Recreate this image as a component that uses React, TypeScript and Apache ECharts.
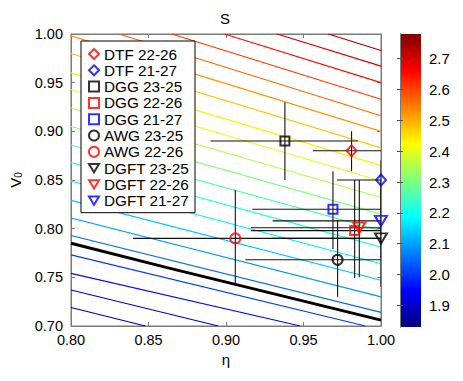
import React, { useEffect, useRef } from "react";
import * as echarts from "echarts";

// ---- axes / ticks ----
const xRange = [0.8, 1.0];
const yRange = [0.7, 1.0];
const colorRange = [1.83, 2.78];
const colorbarTicks = [1.9, 2.0, 2.1, 2.2, 2.3, 2.4, 2.5, 2.6, 2.7];

// ---- contour lines of S (level, then polyline points [eta, V0]) ----
const contourLevels = [
  2.737, 2.694, 2.65, 2.607, 2.564, 2.521, 2.478, 2.435, 2.391, 2.348, 2.305,
  2.262, 2.219, 2.175, 2.132, 2.089, 2.046, 2.003, 1.96, 1.916, 1.873,
];
const contourPaths: number[][][] = [
  [[0.966, 1.0], [1.0, 0.983]],
  [[0.933, 1.0], [1.0, 0.967]],
  [[0.899, 1.0], [1.0, 0.95]],
  [[0.865, 1.0], [1.0, 0.933]],
  [[0.831, 1.0], [1.0, 0.916]],
  [[0.8, 0.998], [1.0, 0.9]],
  [[0.8, 0.98], [1.0, 0.883]],
  [[0.8, 0.96], [1.0, 0.865]],
  [[0.8, 0.943], [1.0, 0.849]],
  [[0.8, 0.924], [1.0, 0.832]],
  [[0.8, 0.905], [1.0, 0.815]],
  [[0.8, 0.886], [1.0, 0.798]],
  [[0.8, 0.868], [1.0, 0.781]],
  [[0.8, 0.849], [1.0, 0.764]],
  [[0.8, 0.829], [1.0, 0.747]],
  [[0.8, 0.811], [1.0, 0.73]],
  [[0.8, 0.793], [1.0, 0.714]],
  [[0.8, 0.773], [0.99, 0.7]],
  [[0.8, 0.754], [0.948, 0.7]],
  [[0.8, 0.737], [0.895, 0.7]],
  [[0.8, 0.719], [0.848, 0.7]],
];
const blackLine = [
  [0.8, 0.785],
  [0.862, 0.76],
  [1.0, 0.706],
];

// ---- estimates with error bars ----
const seriesNames = [
  "DTF 22-26", "DTF 21-27", "DGG 23-25", "DGG 22-26", "DGG 21-27",
  "AWG 23-25", "AWG 22-26", "DGFT 23-25", "DGFT 22-26", "DGFT 21-27",
];
const etaValues = [0.981, 1.0, 0.938, 0.983, 0.969, 0.972, 0.906, 1.0, 0.986, 1.0];
const v0Values = [0.88, 0.85, 0.89, 0.798, 0.82, 0.768, 0.79, 0.79, 0.801, 0.808];
const etaLow = [0.956, 0.9715, 0.89, 0.916, 0.917, 0.9125, 0.84, 0.93, 0.916, 0.93];
const etaHigh = [1.0, 1.0, 0.985, 1.0, 1.0, 1.0, 1.0, 1.0, 1.0, 1.0];
const v0Low = [0.859, 0.83, 0.85, 0.749, 0.779, 0.73, 0.741, 0.74, 0.75, 0.77];
const v0High = [0.9, 0.87, 0.93, 0.85, 0.859, 0.809, 0.84, 0.84, 0.85, 0.85];

const markerShape = ["diamond", "diamond", "rect", "rect", "rect", "circle", "circle", "tri", "tri", "tri"];
const markerColor = ["#ff0000", "#0000ff", "#000000", "#ff0000", "#0000ff", "#000000", "#ff0000", "#000000", "#ff0000", "#0000ff"];

const TRI_DOWN = "path://M0,0 L12,0 L6,10 Z";
const FONT = "'Liberation Sans', Arial, Helvetica, sans-serif";
const AXIS_GRAY = "#7a7a7a";

function jet(f: number): string {
  const c = (v: number) => Math.round(255 * Math.max(0, Math.min(1, v)));
  const r = c(1.5 - Math.abs(4 * f - 3));
  const g = c(1.5 - Math.abs(4 * f - 2));
  const b = c(1.5 - Math.abs(4 * f - 1));
  return `rgb(${r},${g},${b})`;
}
const levelColor = (lv: number) => jet((lv - colorRange[0]) / (colorRange[1] - colorRange[0]));

export default function App() {
  const ref = useRef<HTMLDivElement>(null);
  useEffect(() => {
    if (!ref.current) return;
    const chart = echarts.init(ref.current, undefined, { renderer: "svg" });

    const mainAxisCommon = {
      type: "value" as const,
      gridIndex: 0,
      splitLine: { show: false },
      axisLine: { show: true, lineStyle: { color: AXIS_GRAY, width: 1 } },
      axisTick: { show: true, inside: true, length: 4, lineStyle: { color: AXIS_GRAY } },
    };

    const contourSeries = contourPaths.map((pts, i) => ({
      type: "line",
      xAxisIndex: 0,
      yAxisIndex: 0,
      data: pts,
      symbol: "none",
      silent: true,
      z: 1,
      lineStyle: { color: levelColor(contourLevels[i]), width: 1.2 },
      clip: true,
    }));

    const markerSeries = seriesNames.map((name, i) => ({
      type: "scatter",
      name,
      xAxisIndex: 0,
      yAxisIndex: 0,
      data: [[etaValues[i], v0Values[i]]],
      symbol: markerShape[i] === "tri" ? TRI_DOWN : markerShape[i],
      symbolSize:
        markerShape[i] === "tri" ? [12, 10] : markerShape[i] === "rect" ? 9 : markerShape[i] === "circle" ? 10 : [10, 11],
      itemStyle: { color: "rgba(0,0,0,0)", borderColor: markerColor[i], borderWidth: 2 },
      z: 5,
      silent: true,
      clip: false,
    }));

    const jetStops = [0, 0.125, 0.375, 0.625, 0.875, 1].map((o) => ({ offset: o, color: jet(o) }));

    const option: any = {
      animation: false,
      backgroundColor: "#fff",
      textStyle: { fontFamily: FONT },
      title: {
        text: "S",
        left: 220,
        top: 10,
        padding: 0,
        textStyle: { fontSize: 15, fontWeight: "normal", color: "#000", fontFamily: FONT, lineHeight: 16 },
      },
      grid: [
        { left: 70, top: 34, width: 311, height: 292, show: true, borderColor: AXIS_GRAY, borderWidth: 1, backgroundColor: "#fff" },
        { left: 400, top: 34, width: 21, height: 293, show: false },
      ],
      xAxis: [
        {
          ...mainAxisCommon,
          position: "bottom",
          min: xRange[0],
          max: xRange[1],
          interval: 0.05,
          name: "η",
          nameLocation: "middle",
          nameGap: 25,
          nameTextStyle: { fontSize: 15, color: "#000", fontFamily: FONT },
          axisLabel: { color: "#000", fontSize: 14.5, margin: 6, formatter: (v: number) => v.toFixed(2) },
        },
        {
          ...mainAxisCommon,
          position: "top",
          min: xRange[0],
          max: xRange[1],
          interval: 0.05,
          axisLabel: { show: false },
        },
        {
          type: "value",
          gridIndex: 1,
          min: 0,
          max: 1,
          show: false,
        },
      ],
      yAxis: [
        {
          ...mainAxisCommon,
          position: "left",
          min: yRange[0],
          max: yRange[1],
          interval: 0.05,
          name: "{a|V}{b|0}",
          nameLocation: "middle",
          nameGap: 48,
          nameRotate: 90,
          nameTextStyle: {
            color: "#000",
            fontFamily: FONT,
            rich: {
              a: { fontSize: 15, color: "#000", fontFamily: FONT, verticalAlign: "bottom", lineHeight: 18 },
              b: { fontSize: 10, color: "#000", fontFamily: FONT, verticalAlign: "bottom", lineHeight: 12 },
            },
          },
          axisLabel: { color: "#000", fontSize: 14.5, margin: 8, formatter: (v: number) => v.toFixed(2) },
        },
        {
          ...mainAxisCommon,
          position: "right",
          min: yRange[0],
          max: yRange[1],
          interval: 0.05,
          axisLabel: { show: false },
        },
        {
          type: "value",
          gridIndex: 1,
          position: "right",
          min: colorRange[0],
          max: colorRange[1],
          z: 6,
          splitLine: { show: false },
          axisLine: { show: true, lineStyle: { color: AXIS_GRAY, width: 1 } },
          axisTick: { show: true, inside: true, length: 3, customValues: colorbarTicks, lineStyle: { color: "#555" } },
          axisLabel: {
            color: "#000",
            fontSize: 15,
            margin: 8,
            customValues: colorbarTicks,
            formatter: (v: number) => v.toFixed(1),
          },
        },
        {
          type: "value",
          gridIndex: 1,
          position: "left",
          min: colorRange[0],
          max: colorRange[1],
          z: 6,
          splitLine: { show: false },
          axisLine: { show: true, lineStyle: { color: AXIS_GRAY, width: 1 } },
          axisTick: { show: true, inside: true, length: 3, customValues: colorbarTicks, lineStyle: { color: "#555" } },
          axisLabel: { show: false },
        },
      ],
      legend: {
        data: seriesNames,
        orient: "vertical",
        left: 81,
        top: 41,
        padding: [5, 6, 4, 7],
        itemWidth: 10,
        itemHeight: 10,
        itemGap: 0.3,
        itemTextGap: 6,
        borderColor: "#000",
        borderWidth: 1,
        borderRadius: 0,
        backgroundColor: "#fff",
        selectedMode: false,
        textStyle: { fontSize: 15.3, color: "#000", fontFamily: FONT, lineHeight: 16 },
      },
      series: [
        ...contourSeries,
        {
          type: "line",
          xAxisIndex: 0,
          yAxisIndex: 0,
          data: blackLine,
          symbol: "none",
          silent: true,
          z: 2,
          lineStyle: { color: "#000", width: 3 },
          clip: true,
        },
        {
          type: "custom",
          xAxisIndex: 0,
          yAxisIndex: 0,
          silent: true,
          clip: true,
          z: 3,
          data: etaValues.map((e, i) => [e, v0Values[i], etaLow[i], etaHigh[i], v0Low[i], v0High[i]]),
          encode: { x: 0, y: 1 },
          renderItem: (params: any, api: any) => {
            const x = api.value(0);
            const y = api.value(1);
            const p1 = api.coord([api.value(2), y]);
            const p2 = api.coord([api.value(3), y]);
            const p3 = api.coord([x, api.value(4)]);
            const p4 = api.coord([x, api.value(5)]);
            const st = { stroke: "#111", lineWidth: 1.1 };
            return {
              type: "group",
              children: [
                { type: "line", shape: { x1: p1[0], y1: p1[1], x2: p2[0], y2: p2[1] }, style: st },
                { type: "line", shape: { x1: p3[0], y1: p3[1], x2: p4[0], y2: p4[1] }, style: st },
              ],
            };
          },
        },
        ...markerSeries,
        {
          type: "custom",
          xAxisIndex: 2,
          yAxisIndex: 2,
          silent: true,
          z: 1,
          data: [[0, colorRange[0], 1, colorRange[1]]],
          renderItem: (params: any, api: any) => {
            const a = api.coord([api.value(0), api.value(3)]);
            const b = api.coord([api.value(2), api.value(1)]);
            return {
              type: "rect",
              shape: { x: a[0], y: a[1], width: b[0] - a[0], height: b[1] - a[1] },
              style: { fill: new echarts.graphic.LinearGradient(0, 1, 0, 0, jetStops) },
            };
          },
        },
      ],
    };

    chart.setOption(option);
    return () => chart.dispose();
  }, []);

  return (
    <div
      ref={ref}
      style={{ position: "absolute", left: 0, top: 0, width: 463, height: 381, background: "#fff" }}
    />
  );
}
